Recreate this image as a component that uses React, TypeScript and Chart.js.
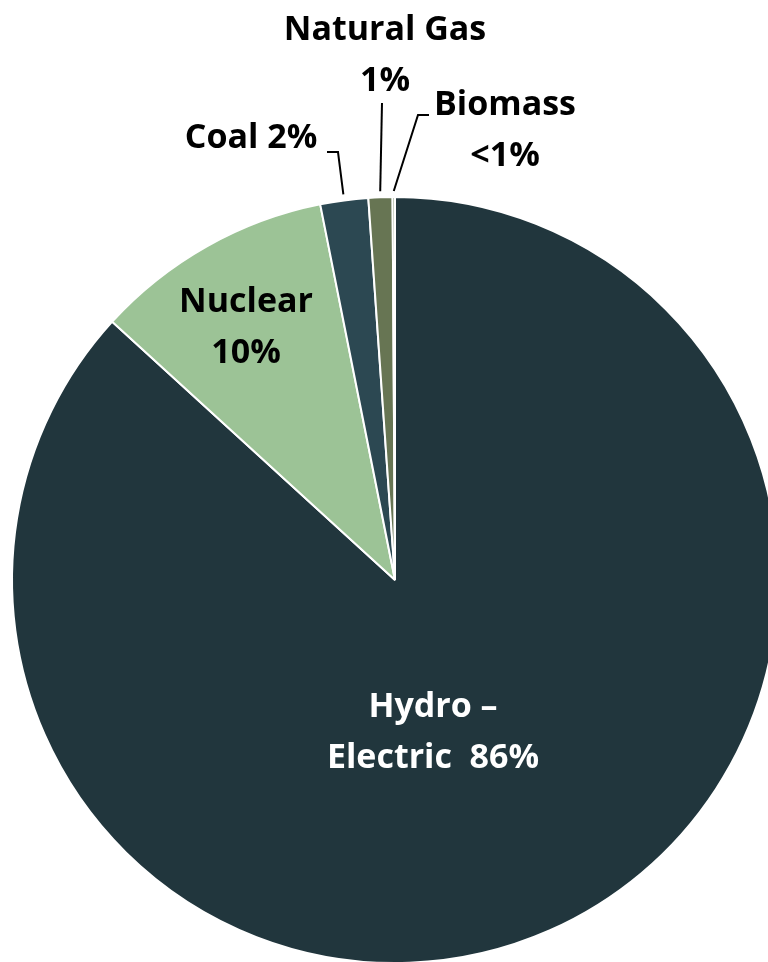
import React, { useEffect, useRef } from "react";
import { Chart, registerables } from "chart.js";

Chart.register(...registerables);

const categories = ["Hydro – Electric", "Nuclear", "Coal", "Natural Gas", "Biomass"];
const shares = [86, 10, 2, 1, 0.1];
const shareLabels = ["86%", "10%", "2%", "1%", "<1%"];
const labelLines = [
  ["Hydro –", "Electric  " + shareLabels[0]],
  ["Nuclear", shareLabels[1]],
  ["Coal " + shareLabels[2]],
  ["Natural Gas", shareLabels[3]],
  ["Biomass", shareLabels[4]],
];
const sliceColors = ["#21363D", "#9CC396", "#2C4852", "#677553", "#6E7F5A"];

// label layout: text centre (dx, first baseline dy) relative to pie centre,
// leader elbow points relative to pie centre (anchor on arc is computed)
const layout = [
  { dx: 38, dy: 137, color: "#FFFFFF", leader: null },
  { dx: -149, dy: -268, color: "#000000", leader: null },
  { dx: -144, dy: -432, color: "#000000", leader: [[-68, -428], [-57, -428]] },
  { dx: -10, dy: -540, color: "#000000", leader: [[-13, -477]] },
  { dx: 110, dy: -465, color: "#000000", leader: [[34, -465], [23, -465]] },
];

const labelPlugin = {
  id: "sliceLabels",
  afterDatasetsDraw(chart: any) {
    const ctx = chart.ctx;
    const meta = chart.getDatasetMeta(0);
    ctx.save();
    ctx.font = "bold 34px 'Open Sans'";
    ctx.textAlign = "center";
    ctx.textBaseline = "alphabetic";
    meta.data.forEach((arc: any, i: number) => {
      const { x, y, startAngle, endAngle, outerRadius } = arc.getProps(
        ["x", "y", "startAngle", "endAngle", "outerRadius"],
        true
      );
      const L = layout[i];
      if (L.leader) {
        const mid = (startAngle + endAngle) / 2;
        const ax = x + (outerRadius + 6) * Math.cos(mid);
        const ay = y + (outerRadius + 6) * Math.sin(mid);
        ctx.beginPath();
        ctx.strokeStyle = "#000000";
        ctx.lineWidth = 2;
        const pts = L.leader;
        ctx.moveTo(x + pts[0][0], y + pts[0][1]);
        for (let k = 1; k < pts.length; k++) ctx.lineTo(x + pts[k][0], y + pts[k][1]);
        ctx.lineTo(ax, ay);
        ctx.stroke();
      }
      ctx.fillStyle = L.color;
      labelLines[i].forEach((line, j) => {
        ctx.fillText(line, x + L.dx, y + L.dy + j * 51);
      });
    });
    ctx.restore();
  },
};

export default function App() {
  const ref = useRef<HTMLCanvasElement>(null);
  useEffect(() => {
    if (!ref.current) return;
    const chart = new Chart(ref.current, {
      type: "pie",
      data: {
        labels: categories,
        datasets: [
          {
            data: shares,
            backgroundColor: sliceColors,
            borderColor: "#FFFFFF",
            borderWidth: 2,
          },
        ],
      },
      options: {
        animation: false,
        responsive: false,
        devicePixelRatio: 1,
        radius: 383,
        layout: { padding: { left: 12, right: 22, top: 197, bottom: 7 } },
        plugins: {
          legend: { display: false },
          tooltip: { enabled: false },
        },
      },
      plugins: [labelPlugin],
    });
    return () => chart.destroy();
  }, []);
  return (
    <div
      style={{
        position: "absolute",
        left: 0,
        top: 0,
        width: 768,
        height: 962,
        overflow: "hidden",
        background: "#FFFFFF",
      }}
    >
      <canvas ref={ref} width={800} height={970} style={{ display: "block" }} />
    </div>
  );
}
